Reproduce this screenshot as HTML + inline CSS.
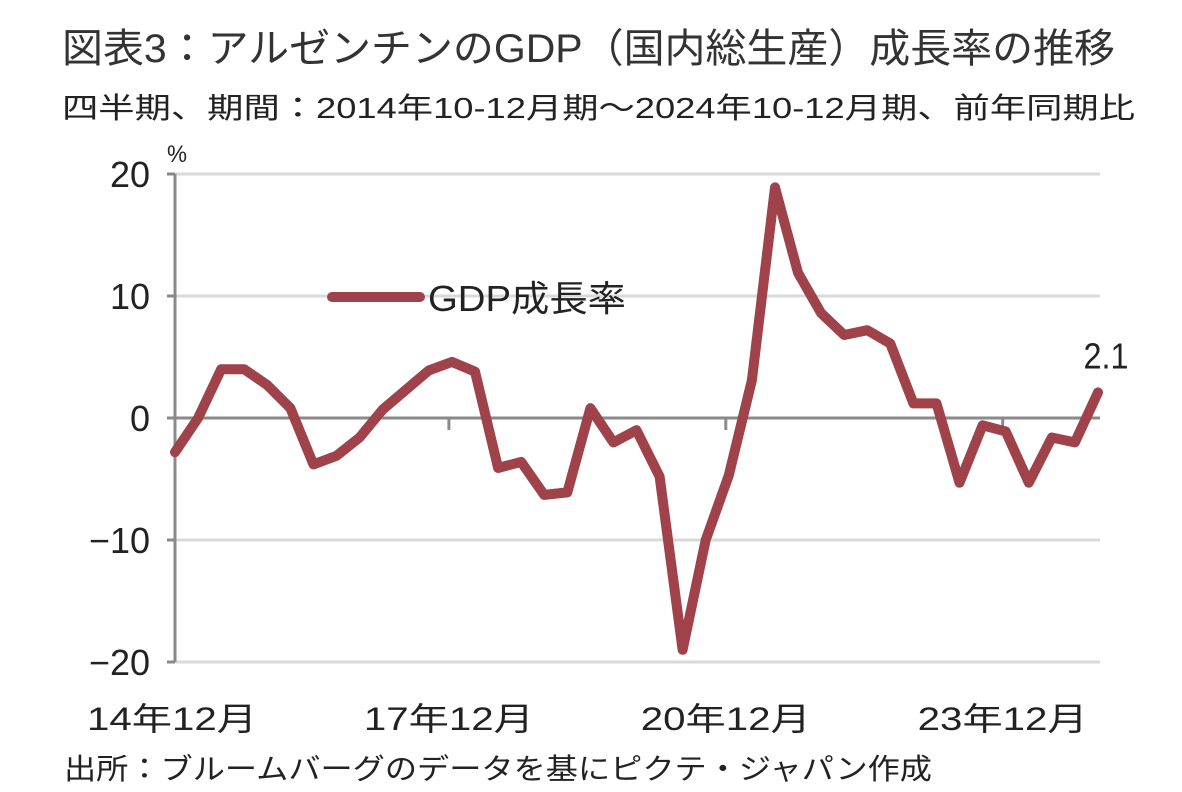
<!DOCTYPE html>
<html><head><meta charset="utf-8"><style>
html,body{margin:0;padding:0;background:#fff;}
svg{display:block;font-family:"Liberation Sans","Noto Sans CJK JP",sans-serif;}
</style></head><body>
<svg id="chart" width="1182" height="792" viewBox="0 0 1182 792" xmlns="http://www.w3.org/2000/svg">
<text x="62" y="62" font-size="40" fill="#333" textLength="1053" lengthAdjust="spacingAndGlyphs">図表3：アルゼンチンのGDP（国内総生産）成長率の推移</text>
<text x="62" y="118" font-size="29" fill="#222" textLength="1073" lengthAdjust="spacingAndGlyphs">四半期、期間：2014年10-12月期～2024年10-12月期、前年同期比</text>
<text x="167" y="162" font-size="24" fill="#222" textLength="20" lengthAdjust="spacingAndGlyphs">%</text>
<g id="grid"></g>
<g id="yticks"></g>
<g id="xticks"></g>
<polyline id="series" fill="none" stroke="#a0424a" stroke-width="10" stroke-linejoin="round" stroke-linecap="round"/>
<line x1="332" y1="297" x2="420" y2="297" stroke="#a0424a" stroke-width="10" stroke-linecap="round"/>
<text x="428" y="311" font-size="36" fill="#222" textLength="198" lengthAdjust="spacingAndGlyphs">GDP成長率</text>
<text id="lastLabel" font-size="36" fill="#222" textLength="45" lengthAdjust="spacingAndGlyphs">2.1</text>
<text x="64" y="779" font-size="29" fill="#222" textLength="868" lengthAdjust="spacingAndGlyphs">出所：ブルームバーグのデータを基にピクテ・ジャパン作成</text>
</svg>
<script>
const values = [-2.8,0,4.0,4.0,2.7,0.8,-3.8,-3.1,-1.6,0.7,2.3,3.9,4.6,3.8,-4.1,-3.6,-6.3,-6.1,0.8,-2.0,-1.0,-4.8,-19.0,-10.0,-4.7,3.1,18.9,11.9,8.6,6.8,7.2,6.1,1.2,1.2,-5.3,-0.6,-1.1,-5.3,-1.6,-2.0,2.1];
const yTicks = [20,10,0,-10,-20];
const yTickLabels = ["20","10","0","−10","−20"];
const xTickIdx = [0,12,24,36];
const xTickLabels = ["14年12月","17年12月","20年12月","23年12月"];
const NS="http://www.w3.org/2000/svg";
const X0=175,X1=1098,Y20=174,Y_20=662;
const xs=i=>X0+(X1-X0)*i/(values.length-1);
const ys=v=>Y20+(20-v)*(Y_20-Y20)/40;
function mk(t,a,p){const e=document.createElementNS(NS,t);for(const k in a)e.setAttribute(k,a[k]);p.appendChild(e);return e;}
const grid=document.getElementById('grid');
yTicks.forEach((v,i)=>{
  const g=mk('line',{x1:X0,x2:1100,y1:ys(v),y2:ys(v),stroke:v===0?'#8a8a8a':'#d9d9d9','stroke-width':v===0?3:3},grid);
  
  
  const s=mk('line',{x1:X0-8,x2:X0,y1:ys(v),y2:ys(v),stroke:'#8a8a8a','stroke-width':3},grid);
  
  
  const t=mk('text',{x:150,y:ys(v)+13,'font-size':36,fill:'#222','text-anchor':'end'},document.getElementById('yticks'));
  t.textContent=yTickLabels[i];
  
  
});
const ax=mk('line',{x1:X0,x2:X0,y1:Y20,y2:Y_20,stroke:'#8a8a8a','stroke-width':3},grid);


xTickIdx.forEach((idx,i)=>{
  const x=xs(idx)-3;
  if(idx>0){const m=mk('line',{x1:x,x2:x,y1:ys(0),y2:ys(0)+12,stroke:'#8a8a8a','stroke-width':3},grid);
  
  }
  const t=mk('text',{x:x,y:730,'font-size':32,fill:'#222','text-anchor':'middle',textLength:170,lengthAdjust:'spacingAndGlyphs'},document.getElementById('xticks'));
  t.textContent=xTickLabels[i];
  
  
});
document.getElementById('series').setAttribute('points',values.map((v,i)=>xs(i).toFixed(1)+','+ys(v).toFixed(1)).join(' '));
const last=values.length-1,ll=document.getElementById('lastLabel');
ll.setAttribute('x',xs(last)+8);ll.setAttribute('y',ys(values[last])-24);
ll.setAttribute('text-anchor','middle');
ll.textContent=values[last].toFixed(1);
</script>
</body></html>
